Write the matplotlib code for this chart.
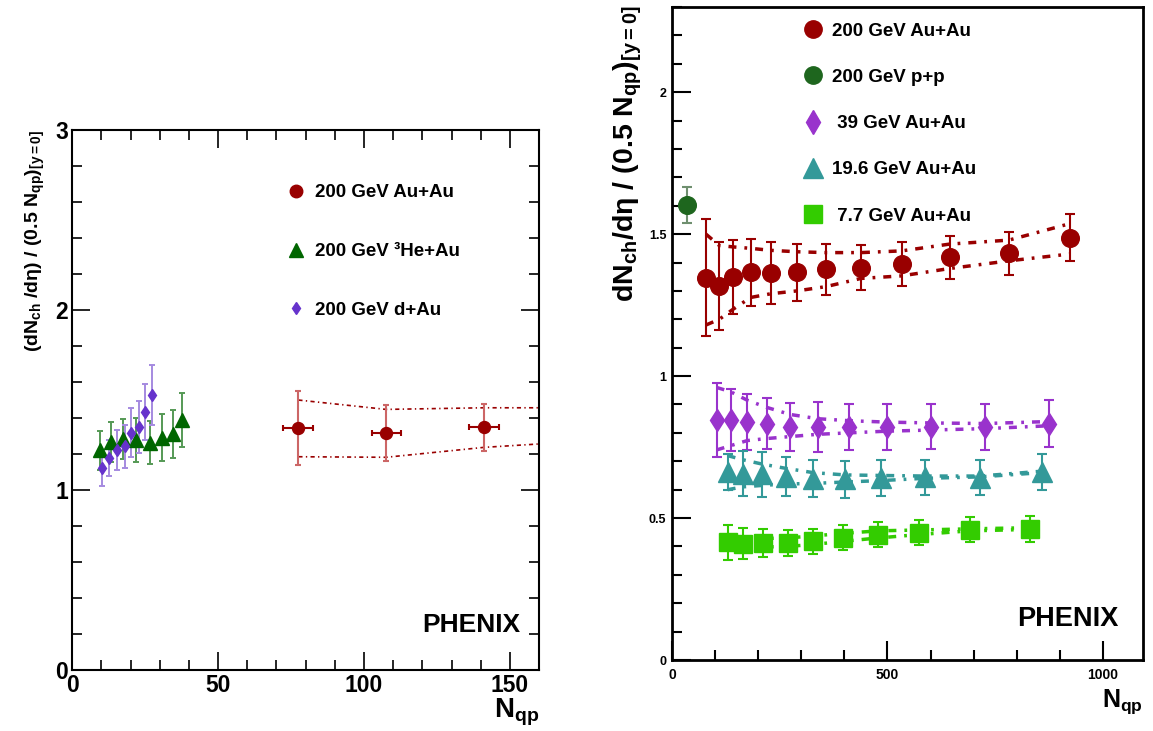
import matplotlib
matplotlib.use('Agg')
import matplotlib.pyplot as plt
from matplotlib.lines import Line2D
from matplotlib.ticker import MultipleLocator

plt.rcParams['font.family'] = 'Liberation Sans'
plt.rcParams['font.weight'] = 'bold'
plt.rcParams['axes.labelweight'] = 'bold'
plt.rcParams['mathtext.fontset'] = 'custom'
plt.rcParams['mathtext.rm'] = 'Liberation Sans:bold'
plt.rcParams['mathtext.it'] = 'Liberation Sans:bold'
plt.rcParams['mathtext.bf'] = 'Liberation Sans:bold'

# ---- left panel : 200 GeV small systems ----
auau_x = [77.5, 107.6, 141.1]
auau_xerr = [5.1, 5.0, 5.2]
auau_y = [1.346, 1.317, 1.348]
auau_yerr = [0.205, 0.156, 0.132]
auau_sys_x = [77.5, 107.6, 141.1, 160]
auau_sys_hi = [1.50, 1.448, 1.457, 1.457]
auau_sys_lo = [1.185, 1.182, 1.237, 1.256]

he3_x = [9.5, 13.2, 17.4, 21.8, 26.6, 30.8, 34.5, 37.6]
he3_y = [1.22, 1.268, 1.282, 1.278, 1.263, 1.29, 1.311, 1.389]
he3_yerr = [0.11, 0.11, 0.11, 0.12, 0.12, 0.13, 0.135, 0.15]

dau_x = [10.3, 12.7, 15.4, 18.1, 20.1, 22.8, 24.9, 27.3]
dau_y = [1.12, 1.179, 1.222, 1.244, 1.318, 1.348, 1.435, 1.528]
dau_yerr = [0.1, 0.1, 0.11, 0.12, 0.135, 0.145, 0.155, 0.165]

# ---- right panel : beam energy scan ----
x200 = [78.9, 109.8, 142.3, 182.6, 229, 289.3, 356.8, 438.5, 532.9, 644.5, 781.9, 923.4]
y200 = [1.347, 1.318, 1.35, 1.365, 1.363, 1.365, 1.377, 1.382, 1.394, 1.418, 1.433, 1.488]
e200 = [0.205, 0.155, 0.13, 0.117, 0.11, 0.1, 0.09, 0.08, 0.077, 0.077, 0.076, 0.084]
hi200 = [1.50, 1.46, 1.455, 1.45, 1.443, 1.438, 1.435, 1.435, 1.441, 1.465, 1.479, 1.537]
lo200 = [1.18, 1.20, 1.236, 1.277, 1.29, 1.30, 1.315, 1.344, 1.353, 1.379, 1.406, 1.43]

xpp = [34]
ypp = [1.603]
epp = [0.063]

x39 = [103.6, 136.1, 174.8, 219.6, 273.8, 338, 410, 498, 600, 727, 874.7]
y39 = [0.846, 0.846, 0.838, 0.832, 0.822, 0.82, 0.82, 0.82, 0.822, 0.82, 0.832]
e39 = [0.13, 0.11, 0.1, 0.09, 0.085, 0.088, 0.08, 0.08, 0.08, 0.08, 0.083]
hi39 = [0.96, 0.945, 0.915, 0.89, 0.865, 0.85, 0.843, 0.838, 0.835, 0.833, 0.84]
lo39 = [0.74, 0.755, 0.773, 0.78, 0.787, 0.795, 0.80, 0.806, 0.81, 0.815, 0.825]

x19 = [129.2, 165.5, 209.6, 264.6, 328, 401.4, 485, 587, 714.6, 857.8]
y19 = [0.662, 0.656, 0.654, 0.646, 0.639, 0.636, 0.641, 0.644, 0.642, 0.662]
e19 = [0.064, 0.079, 0.079, 0.07, 0.066, 0.064, 0.062, 0.062, 0.062, 0.062]
hi19 = [0.72, 0.705, 0.69, 0.675, 0.66, 0.652, 0.65, 0.648, 0.648, 0.665]
lo19 = [0.60, 0.61, 0.615, 0.62, 0.622, 0.627, 0.632, 0.64, 0.645, 0.66]

x7 = [130.7, 165.5, 211.9, 268.4, 327.8, 397.4, 478.7, 573.9, 691, 830.6]
y7 = [0.414, 0.41, 0.412, 0.412, 0.419, 0.431, 0.442, 0.449, 0.459, 0.463]
e7 = [0.06, 0.055, 0.05, 0.046, 0.044, 0.044, 0.043, 0.045, 0.045, 0.046]
hi7 = [0.43, 0.428, 0.428, 0.43, 0.437, 0.446, 0.455, 0.458, 0.462, 0.466]
lo7 = [0.40, 0.397, 0.398, 0.40, 0.407, 0.418, 0.43, 0.442, 0.455, 0.46]

c_auau = '#990000'
c_he3 = '#006600'
c_dau = '#6633cc'
c_pp = '#1e661e'
c_39 = '#9933cc'
c_19 = '#339999'
c_7 = '#33cc00'

fig = plt.figure(figsize=(11.53, 7.31), dpi=100)
ax1 = fig.add_axes([0.0627, 0.0834, 0.4048, 0.7387])
ax2 = fig.add_axes([0.5828, 0.0971, 0.4085, 0.8933])

# left panel
thin_sys = (0, (2.5, 2, 0.8, 2))
ax1.plot(auau_sys_x, auau_sys_hi, color=c_auau, lw=1.2, ls=thin_sys)
ax1.plot(auau_sys_x, auau_sys_lo, color=c_auau, lw=1.2, ls=thin_sys)
ax1.errorbar(auau_x, auau_y, yerr=auau_yerr, fmt='none', ecolor='#cc6666',
             elinewidth=1.5, capsize=2.5, capthick=1.5)
ax1.errorbar(auau_x, auau_y, xerr=auau_xerr, fmt='o', color=c_auau, ecolor=c_auau,
             ms=8.6, elinewidth=1.5, capsize=2.5, capthick=1.5)
ax1.errorbar(he3_x, he3_y, yerr=he3_yerr, fmt='^', color=c_he3, ecolor='#559955',
             ms=9.5, elinewidth=1.4, capsize=2.5, capthick=1.4)
ax1.errorbar(dau_x, dau_y, yerr=dau_yerr, fmt='d', color=c_dau, ecolor='#a58ae0',
             ms=6.2, elinewidth=1.4, capsize=2.5, capthick=1.4)

ax1.set_xlim(0, 160)
ax1.set_ylim(0, 3)
ax1.xaxis.set_major_locator(MultipleLocator(50))
ax1.xaxis.set_minor_locator(MultipleLocator(10))
ax1.yaxis.set_major_locator(MultipleLocator(1))
ax1.yaxis.set_minor_locator(MultipleLocator(0.2))
ax1.tick_params(which='both', direction='in', top=True, right=True, width=1.2)
ax1.tick_params(which='major', length=13, labelsize=16.5, pad=3)
ax1.tick_params(which='minor', length=7)
for s in ax1.spines.values():
    s.set_linewidth(1.5)
ax1.set_ylabel(r'(dN$_{ch}$ /d$\eta$) / (0.5 N$_{qp}$)$_{[y=0]}$', fontsize=14,
               fontweight='bold', loc='top')
ax1.yaxis.set_label_coords(-0.054, 1.0)
ax1.set_xlabel(r'N$_{qp}$', fontsize=20, fontweight='bold', loc='right')
ax1.xaxis.set_label_coords(1.0, -0.05)
ax1.text(0.854, 0.083, 'PHENIX', transform=ax1.transAxes, fontsize=19,
         fontweight='bold', ha='center', va='center')

h1 = [Line2D([], [], marker='o', ls='none', color=c_auau, ms=9),
      Line2D([], [], marker='^', ls='none', color=c_he3, ms=10),
      Line2D([], [], marker='d', ls='none', color=c_dau, ms=6.5)]
ax1.legend(h1, ['200 GeV Au+Au', '200 GeV \u00b3He+Au', '200 GeV d+Au'],
           loc='upper left', bbox_to_anchor=(0.459, 0.900), frameon=False,
           borderaxespad=0, borderpad=0, handlelength=1.0, handletextpad=0.5,
           labelspacing=2.23, fontsize=13.5)

# right panel
thick_sys = (0, (2.3, 2.3, 0.8, 2.3))
for xs, hi, lo, c in [(x200, hi200, lo200, c_auau), (x39, hi39, lo39, c_39),
                      (x19, hi19, lo19, c_19), (x7, hi7, lo7, c_7)]:
    ax2.plot(xs, hi, color=c, lw=2.5, ls=thick_sys)
    ax2.plot(xs, lo, color=c, lw=2.5, ls=thick_sys)

ax2.errorbar(x200, y200, yerr=e200, fmt='o', color=c_auau, ms=12.7,
             elinewidth=1.5, capsize=3.6, capthick=1.5)
ax2.errorbar(xpp, ypp, yerr=epp, fmt='o', color=c_pp, ecolor='#6f8f6f', ms=12.7,
             elinewidth=1.5, capsize=3.6, capthick=1.5)
ax2.errorbar(x39, y39, yerr=e39, fmt='d', color=c_39, ms=11.7,
             elinewidth=1.5, capsize=3.6, capthick=1.5)
ax2.errorbar(x19, y19, yerr=e19, fmt='^', color=c_19, ms=14.4,
             elinewidth=1.5, capsize=3.6, capthick=1.5)
ax2.errorbar(x7, y7, yerr=e7, fmt='s', color=c_7, ms=12.7,
             elinewidth=1.5, capsize=3.6, capthick=1.5)

ax2.set_xlim(0, 1093)
ax2.set_ylim(0, 2.3)
ax2.xaxis.set_minor_locator(MultipleLocator(100))
ax2.yaxis.set_minor_locator(MultipleLocator(0.1))
ax2.set_yticks([0, 0.5, 1, 1.5, 2])
ax2.set_yticklabels(['0', '0.5', '1', '1.5', '2'])
ax2.set_xticks([0, 500, 1000])
ax2.set_xticklabels(['0', '500', '1000'])
ax2.tick_params(which='both', direction='in', width=1.5)
ax2.tick_params(which='major', length=14)
ax2.tick_params(axis='x', which='major', labelsize=10, pad=6)
ax2.tick_params(axis='y', which='major', labelsize=9, pad=4)
ax2.tick_params(which='minor', length=7)
for s in ax2.spines.values():
    s.set_linewidth(2)
ax2.set_ylabel(r'dN$_{ch}$/d$\eta$ / (0.5 N$_{qp}$)$_{[y=0]}$', fontsize=20.5,
               fontweight='bold', loc='top')
ax2.yaxis.set_label_coords(-0.06, 1.003)
ax2.set_xlabel(r'N$_{qp}$', fontsize=18, fontweight='bold', loc='right')
ax2.xaxis.set_label_coords(1.0, -0.042)
ax2.text(0.841, 0.063, 'PHENIX', transform=ax2.transAxes, fontsize=19.5,
         fontweight='bold', ha='center', va='center')

h2 = [Line2D([], [], marker='o', ls='none', color=c_auau, ms=12.5),
      Line2D([], [], marker='o', ls='none', color=c_pp, ms=12.5),
      Line2D([], [], marker='d', ls='none', color=c_39, ms=12),
      Line2D([], [], marker='^', ls='none', color=c_19, ms=14.5),
      Line2D([], [], marker='s', ls='none', color=c_7, ms=13)]
ax2.legend(h2, ['200 GeV Au+Au', '200 GeV p+p', ' 39 GeV Au+Au',
                '19.6 GeV Au+Au', ' 7.7 GeV Au+Au'],
           loc='upper left', bbox_to_anchor=(0.279, 0.976), frameon=False,
           borderaxespad=0, borderpad=0, handlelength=1.0, handletextpad=0.5,
           labelspacing=1.55, fontsize=13.5)

fig.savefig('out.png', dpi=100)
